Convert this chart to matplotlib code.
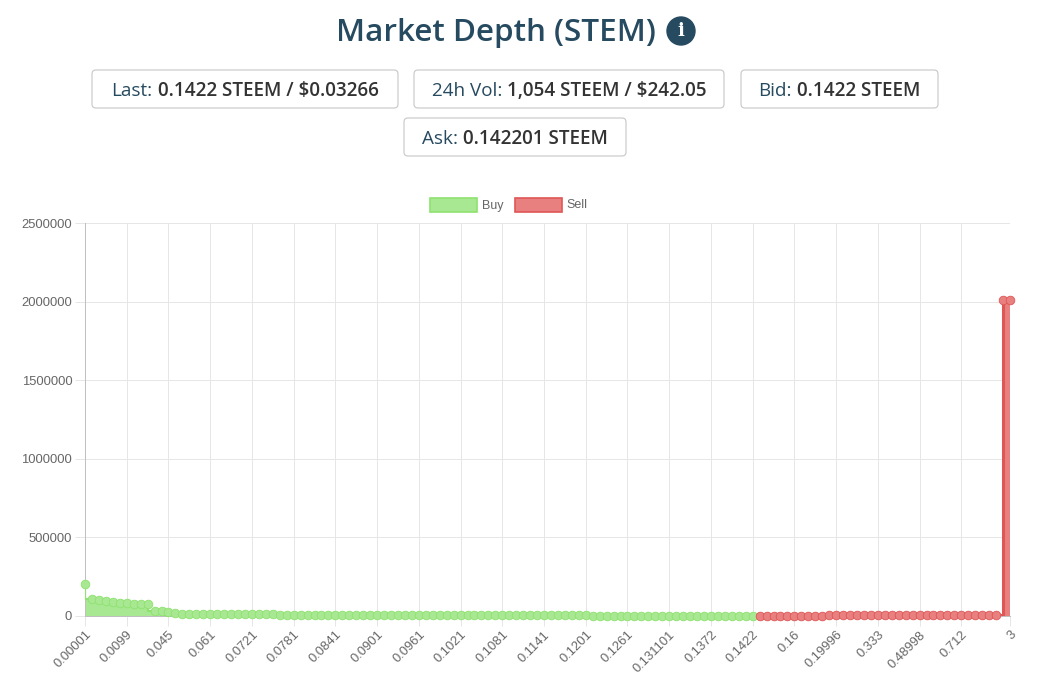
import numpy as np
import matplotlib
matplotlib.use('Agg')
import matplotlib.pyplot as plt
from matplotlib.patches import FancyBboxPatch, Rectangle, Circle

# cumulative depth (STEEM) per price level
buy_depth = [206000, 106000, 104000, 98000, 91500, 81000, 80000, 78000, 77000, 77000,
             30000, 30000, 28000, 17000, 15000,
             12000, 11800, 11500, 11300, 11000, 10800, 10600, 10500, 10300, 10100,
             10000, 9800, 9700, 9500, 9400, 9200, 9000, 8900, 8700, 8600,
             8400, 8300, 8100, 8000, 7800, 7700, 7500, 7400, 7200, 7100,
             6900, 6800, 6600, 6500, 6300, 6200, 6000, 5900, 5800, 5600,
             5500, 5300, 5200, 5000, 4900, 4800, 4600, 4500, 4400, 4200,
             4100, 4000, 3800, 3700, 3600, 3500, 3300, 3200, 3100, 3000,
             2900, 2800, 2600, 2500, 2400, 2300, 2200, 2100, 2000, 1900,
             1800, 1700, 1600, 1500, 1400, 1300, 1200, 1100, 1000, 900,
             800, 700]
sell_depth = [500, 800, 1100, 1400, 1700, 2000, 2200, 2500, 2700, 3000,
              3200, 3400, 3600, 3800, 4000, 4200, 4400, 4600, 4800, 5000,
              5200, 5400, 5600, 5800, 6000, 6200, 6400, 6600, 6800, 7000,
              7200, 7400, 7600, 7800, 8000, 2009000, 2009000]
tick_labels = ["0.00001", "0.0099", "0.045", "0.061", "0.0721", "0.0781", "0.0841",
               "0.0901", "0.0961", "0.1021", "0.1081", "0.1141", "0.1201", "0.1261",
               "0.131101", "0.1372", "0.1422", "0.16", "0.19996", "0.333", "0.48998",
               "0.712", "3"]
stats = [("Last:", "0.1422 STEEM / $0.03266"),
         ("24h Vol:", "1,054 STEEM / $242.05"),
         ("Bid:", "0.1422 STEEM"),
         ("Ask:", "0.142201 STEEM")]

W, H = 1045, 698
NAVY = '#264a60'
GREEN_FILL, GREEN_LINE = '#a8e892', '#8ee26f'
RED_FILL, RED_LINE = '#e88080', '#e05555'
GRID = '#e6e6e6'

fig = plt.figure(figsize=(W / 100, H / 100), dpi=100)

# overlay in pixel coords for header, stat boxes and legend
ov = fig.add_axes([0, 0, 1, 1])
ov.set_xlim(0, W)
ov.set_ylim(H, 0)
ov.axis('off')

ov.text(495.5, 41.5, "Market Depth (STEM)", ha='center', va='baseline', fontsize=22.6,
        fontweight=600, color=NAVY, family='Open Sans')
ov.add_patch(Circle((681, 31), 14, color=NAVY))
ov.text(681, 31.5, "i", ha='center', va='center', fontsize=13, fontweight='bold',
        color='white', family='DejaVu Serif')

renderer = fig.canvas.get_renderer()
boxes = [(92, 70, 398, 108), (414, 70, 724, 108), (741, 70, 938, 108), (404, 118, 626, 156)]
for (lab, val), (x0, y0, x1, y1) in zip(stats, boxes):
    ov.add_patch(FancyBboxPatch((x0, y0), x1 - x0, y1 - y0,
                                boxstyle='round,pad=0,rounding_size=4',
                                fc='white', ec='#cccccc', lw=0.9))
    cy = (y0 + y1) / 2 + 7
    t1 = ov.text(0, cy, lab, va='baseline', fontsize=13.6, color=NAVY, family='Open Sans')
    t2 = ov.text(0, cy, val, va='baseline', fontsize=13.6, fontweight=600, color='#333333',
                 family='Open Sans')
    w1 = t1.get_window_extent(renderer).width
    w2 = t2.get_window_extent(renderer).width
    gap = 5
    start = (x0 + x1) / 2 - (w1 + gap + w2) / 2
    t1.set_x(start)
    t2.set_x(start + w1 + gap)

# legend
ov.add_patch(Rectangle((430, 198), 47, 14, fc=GREEN_FILL, ec=GREEN_LINE, lw=1.2))
ov.text(482, 205.5, "Buy", va='center', fontsize=9, color='#666666', family='Liberation Sans')
ov.add_patch(Rectangle((515, 198), 47, 14, fc=RED_FILL, ec=RED_LINE, lw=1.2))
ov.text(566, 205.5, "Sell", va='center', fontsize=9, color='#666666', family='Liberation Sans')

# depth chart
ax = fig.add_axes([85 / W, 1 - 616 / H, 925 / W, 393 / H])
n_buy = len(buy_depth)
n = n_buy + len(sell_depth)
x_buy = np.arange(n_buy)
x_sell = np.arange(n_buy, n)

ax.fill_between(x_buy, buy_depth, step='pre', color=GREEN_FILL, lw=0, zorder=2)
ax.plot(x_buy, buy_depth, drawstyle='steps-pre', color=GREEN_LINE, lw=1.6, zorder=3)
ax.plot(x_buy, buy_depth, 'o', ms=6.2, mfc=GREEN_FILL, mec=GREEN_LINE, mew=0.6, zorder=4,
        clip_on=False)

ax.fill_between(x_sell, sell_depth, step='post', color=RED_FILL, lw=0, zorder=2)
ax.plot(x_sell, sell_depth, drawstyle='steps-post', color=RED_LINE, lw=2.2, zorder=3)
ax.plot(x_sell, sell_depth, 'o', ms=6.2, mfc=RED_FILL, mec=RED_LINE, mew=0.6, zorder=4,
        clip_on=False)

ax.set_xlim(0, n - 1)
ax.set_ylim(0, 2500000)
tick_pos = list(range(0, n - 7, 6)) + [n - 1]
ax.set_xticks(tick_pos)
ax.set_xticklabels(tick_labels, rotation=45, ha='right', va='top', rotation_mode='anchor',
                   family='Liberation Sans')
ax.set_yticks(np.arange(0, 2500001, 500000))
ax.set_yticklabels([str(v) for v in range(0, 2500001, 500000)], family='Liberation Sans')
ax.tick_params(length=7.2, width=0.72, color=GRID, labelsize=9.4, labelcolor='#666666', pad=2)
ax.grid(color=GRID, lw=0.72, zorder=0)
ax.set_axisbelow(True)
for s in ['top', 'right']:
    ax.spines[s].set_visible(False)
for s in ['left', 'bottom']:
    ax.spines[s].set_color('#bfbfbf')
    ax.spines[s].set_linewidth(0.72)
ax.set_facecolor('none')

fig.savefig('out.png', dpi=100)
